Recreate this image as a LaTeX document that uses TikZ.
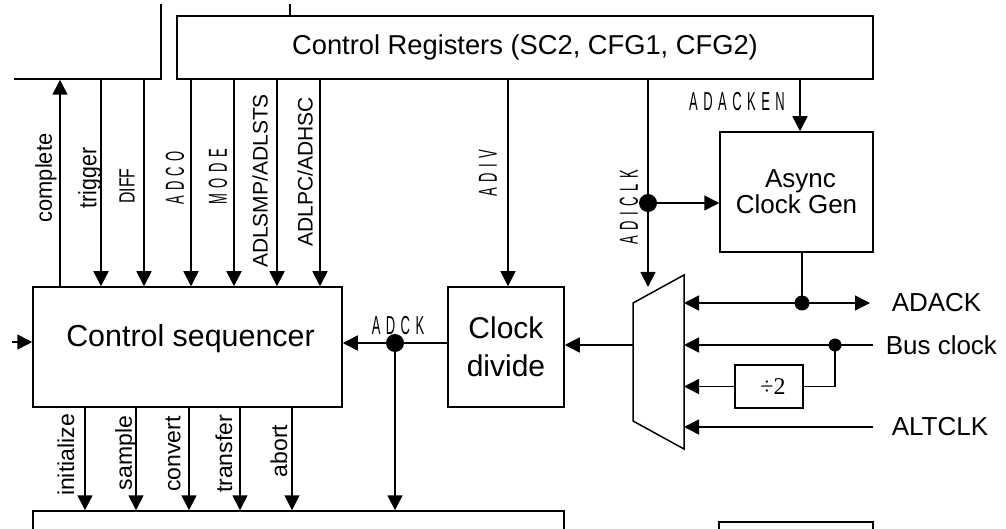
\documentclass[tikz,border=0pt]{standalone}
\usepackage{fontspec}
\setmainfont{Liberation Sans}
\newfontfamily\spfont[LetterSpace=42]{Liberation Sans}
\newfontfamily\serfont{Liberation Serif}
\usetikzlibrary{arrows.meta}
\begin{document}
\begin{tikzpicture}[x=1pt,y=-1pt,line width=1.5pt,
  box/.style={draw,line width=1.5pt,rectangle,inner sep=0pt,align=center},
  arr/.style={-{Triangle[width=15pt,length=15pt]}},
  jdot/.style={circle,fill,inner sep=0pt,minimum size=#1},
  sp/.style={font=\spfont\fontsize{26}{26}\selectfont},
  vl/.style={rotate=90,inner sep=0pt},
  big/.style={font=\fontsize{26}{26}\selectfont},
]
\useasboundingbox (0,0) rectangle (1006,529);

% boxes
\node[box,minimum width=696pt,minimum height=63pt,font=\fontsize{27.3}{28}\selectfont] (reg) at (525,47.5) {Control Registers (SC2, CFG1, CFG2)};
\node[box,minimum width=309pt,minimum height=120pt,
  label={[font=\fontsize{30.4}{31}\selectfont,yshift=8.5pt,xshift=3pt]center:Control sequencer}] (seq) at (187.5,347) {};
\node[box,minimum width=116pt,minimum height=120pt,font=\fontsize{30}{38}\selectfont] (clk) at (506,347) {Clock\\divide};
\node[box,minimum width=153pt,minimum height=120pt,font=\fontsize{26}{26}\selectfont] (async) at (796.5,192) {\hspace{8pt}Async\\Clock Gen};
\node[box,minimum width=68pt,minimum height=43pt,font=\serfont\fontsize{24}{24}\selectfont] (div2) at (769,386.5) {\hspace{8pt}÷2};
\node[box,minimum width=531pt,minimum height=60pt] (bot) at (298.5,541) {};
\node[box,minimum width=154pt,minimum height=60pt] (botr) at (796,552) {};

% top-left partial box and tick
\coordinate (tlA) at (14,79);
\coordinate (tlB) at (161,79);
\coordinate (tlC) at (161,4);
\draw (tlA) -- (tlB) -- (tlC);
\coordinate (tick) at (290,4);
\draw (tick) -- (reg.north -| tick);

% mux
\coordinate (m1) at (633,303);
\coordinate (m2) at (684,275);
\coordinate (m3) at (684,449);
\coordinate (m4) at (633,421);
\draw (m1) -- (m2) -- (m3) -- (m4) -- cycle;

% signals from registers to sequencer
\coordinate (cC) at (60,0);
\draw[arr] (seq.north -| cC) -- (reg.south -| cC);
\foreach \x/\n in {101/a,144/b,191/c,234/d,277/e,320/f}{
  \coordinate (c\n) at (\x,0);
  \draw[arr] (reg.south -| c\n) -- (seq.north -| c\n);
}
\node[vl,font=\fontsize{23}{23}\selectfont] (lcomplete) at (46,178) {\scalebox{0.95}[1]{complete}};
\node[vl,font=\fontsize{25}{25}\selectfont] (ltrigger) at (90,178) {\scalebox{0.85}[1]{trigger}};
\node[vl,font=\fontsize{22}{22}\selectfont] (ldiff) at (127,186) {\scalebox{0.72}[1]{DIFF}};
\node[vl,sp] (ladco) at (175,178) {\scalebox{0.5}[1]{ADCO}};
\node[vl,sp] (lmode) at (218,177) {\scalebox{0.5}[1]{MODE}};
\node[vl,font=\fontsize{21}{21}\selectfont] (ladlsmp) at (260,181) {ADLSMP/ADLSTS};
\node[vl,font=\fontsize{21}{21}\selectfont] (ladlpc) at (305,172) {ADLPC/ADHSC};

% ADIV
\coordinate (cadiv) at (508,0);
\draw[arr] (reg.south -| cadiv) -- (clk.north -| cadiv);
\node[vl,sp] (ladiv) at (488,173) {\scalebox{0.5}[1]{ADIV}};

% ADICLK
\coordinate (adiclkdot) at (648,203);
\coordinate (muxsel) at (648,287);
\draw (reg.south -| adiclkdot) -- (adiclkdot);
\draw[arr] (adiclkdot) -- (muxsel);
\draw[arr] (adiclkdot) -- (async.west |- adiclkdot);
\node[jdot=18pt] (dA) at (adiclkdot) {};
\node[vl,sp] (ladiclk) at (629,207) {\scalebox{0.5}[1]{ADICLK}};

% ADACKEN
\coordinate (cae) at (800,0);
\draw[arr] (reg.south -| cae) -- (async.north -| cae);
\node[sp] (ladacken) at (737,102) {\scalebox{0.5}[1]{ADACKEN}};

% ADACK
\coordinate (ackdot) at (802,303);
\coordinate (ackend) at (870,303);
\draw (async.south -| ackdot) -- (ackdot);
\draw[arr] (ackdot) -- (ackend);
\draw[arr] (ackdot) -- (m2 |- ackdot);
\node[jdot=15pt] (dB) at (ackdot) {};
\node[big,anchor=west,inner sep=0pt] (ladack) at (891,303) {ADACK};

% Bus clock
\coordinate (busend) at (873,345);
\coordinate (busdot) at (835,345);
\draw (busend) -- (busdot);
\draw[arr] (busdot) -- (m2 |- busdot);
\draw (busdot) |- (div2.east);
\draw[arr] (div2.west) -- (m2 |- div2.west);
\node[jdot=13pt] (dC) at (busdot) {};
\node[big,anchor=west,inner sep=0pt] (lbus) at (885,345) {Bus clock};

% ALTCLK
\coordinate (altend) at (873,427);
\draw[arr] (altend) -- (m2 |- altend);
\node[big,anchor=west,inner sep=0pt] (lalt) at (891,427) {ALTCLK};

% mux output
\coordinate (mout) at (633,345);
\draw[arr] (mout) -- (clk.east |- mout);

% ADCK
\coordinate (adckdot) at (395,343);
\draw (clk.west |- adckdot) -- (adckdot);
\draw[arr] (adckdot) -- (seq.east |- adckdot);
\draw[arr] (adckdot) -- (bot.north -| adckdot);
\node[jdot=18pt] (dD) at (adckdot) {};
\node[sp] (ladck) at (398,326) {\scalebox{0.5}[1]{ADCK}};

% left input
\coordinate (lin) at (12,342);
\draw[arr] (lin) -- (seq.west |- lin);

% sequencer outputs
\foreach \x/\n in {85/p,136/q,189/r,240/s,292/t}{
  \coordinate (o\n) at (\x,0);
  \draw[arr] (seq.south -| o\n) -- (bot.north -| o\n);
}
\node[vl,font=\fontsize{23}{23}\selectfont] (linit) at (66,455) {initialize};
\node[vl,font=\fontsize{23}{23}\selectfont] (lsample) at (126,453) {sample};
\node[vl,font=\fontsize{23}{23}\selectfont] (lconvert) at (173,454) {convert};
\node[vl,font=\fontsize{23}{23}\selectfont] (ltransfer) at (224,454) {transfer};
\node[vl,font=\fontsize{23}{23}\selectfont] (labort) at (279,451) {abort};
\end{tikzpicture}
\end{document}
